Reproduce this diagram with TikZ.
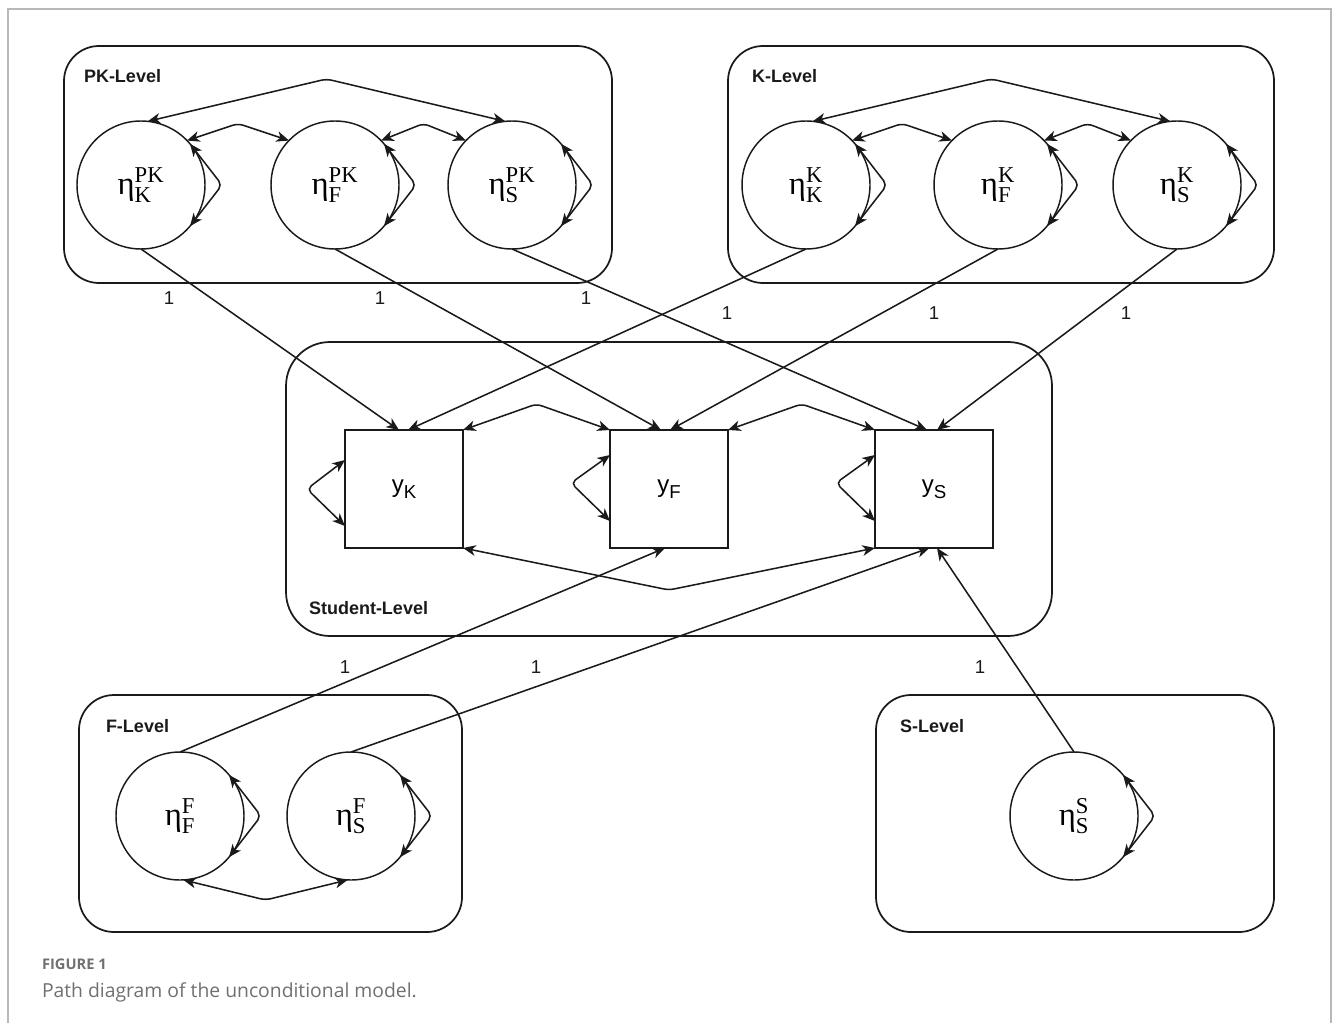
\documentclass[tikz,border=0pt]{standalone}
\usepackage{fontspec}
\setmainfont{Liberation Sans}
\newfontfamily\lserif{Liberation Serif}
\newfontfamily\capfont{Open Sans}
\usetikzlibrary{arrows.meta,calc}
\definecolor{ink}{HTML}{1A1A1A}
\definecolor{framegray}{HTML}{B8B8B8}
\definecolor{capgray}{HTML}{707070}
\newcommand\etalab[2]{$\mbox{\lserif η}^{\mbox{\lserif\fontsize{17}{19}\selectfont #1}}_{\mbox{\lserif\fontsize{17}{19}\selectfont #2}}$}
\newcommand\ylab[1]{y\raisebox{-0.25em}{\fontsize{14}{16}\selectfont #1}}
\begin{document}
\begin{tikzpicture}[x=0.75pt,y=-0.75pt,
  >={Stealth[length=9.5pt,width=8pt,inset=2.8pt]},
  every node/.style={inner sep=0pt,outer sep=0pt},
  latent/.style={circle,draw=ink,line width=1.1pt,minimum size=96pt,font=\fontsize{24.5}{27}\selectfont\lserif},
  observed/.style={rectangle,draw=ink,line width=1.1pt,minimum width=88.5pt,minimum height=88.5pt,font=\fontsize{18}{20}\selectfont},
  levelbox/.style={draw=ink,line width=1.3pt,rounded corners=26.25pt},
  levellabel/.style={anchor=base west,font=\bfseries\fontsize{13.5}{15}\selectfont,text=ink},
  onelab/.style={font=\fontsize{14}{16}\selectfont,text=ink},
  conn/.style={draw=ink,line width=1.15pt,->},
  cov/.style={draw=ink,line width=1.15pt,<->,rounded corners=4pt},
]
\useasboundingbox (0,0) rectangle (1333,1023);
% outer frame of the figure
\draw[framegray,line width=1.2pt] (8,1023) -- (8,9) -- (1331,9) -- (1331,1023);

% level boxes
\draw[levelbox] (64,46) rectangle (612,283);
\draw[levelbox] (728,46) rectangle (1274,283);
\draw[levelbox,rounded corners=33pt] (286,342) rectangle (1052,636);
\draw[levelbox] (79,695) rectangle (462,932);
\draw[levelbox] (876,695) rectangle (1274,932);

\node[levellabel] (lpk) at (84,83) {PK-Level};
\node[levellabel] (lk) at (752,83) {K-Level};
\node[levellabel] (lst) at (309,614) {Student-Level};
\node[levellabel] (lf) at (106,732) {F-Level};
\node[levellabel] (ls) at (900,732) {S-Level};

% latent variables
\node[latent] (pkK) at (141,185) {\etalab{PK}{K}};
\node[latent] (pkF) at (335,185) {\etalab{PK}{F}};
\node[latent] (pkS) at (512,185) {\etalab{PK}{S}};
\node[latent] (kK) at (806,185) {\etalab{K}{K}};
\node[latent] (kF) at (998,185) {\etalab{K}{F}};
\node[latent] (kS) at (1177,185) {\etalab{K}{S}};
\node[latent] (fF) at (180,816) {\etalab{F}{F}};
\node[latent] (fS) at (351,816) {\etalab{F}{S}};
\node[latent] (sS) at (1074,816) {\etalab{S}{S}};

% observed variables
\node[observed] (yK) at (404,489) {\ylab{K}};
\node[observed] (yF) at (669,489) {\ylab{F}};
\node[observed] (yS) at (934,489) {\ylab{S}};

% loadings
\draw[conn] (pkK.south) -- ([xshift=-3.75pt]yK.north);
\draw[conn] (kK.south) -- ([xshift=3pt]yK.north);
\draw[conn] (pkF.south) -- ([xshift=-6pt]yF.north);
\draw[conn] (kF.south) -- ([xshift=0.75pt]yF.north);
\draw[conn] (pkS.south) -- ([xshift=-5.25pt]yS.north);
\draw[conn] (kS.south) -- ([xshift=2.25pt]yS.north);
\draw[conn] (fF.north) -- ([xshift=-3pt]yF.south);
\draw[conn] (fS.north) -- ([xshift=-3.4pt]yS.south);
\draw[conn] (sS.north) -- ([xshift=2.25pt]yS.south);

\node[onelab] (o1) at (169,298) {1};
\node[onelab] (o2) at (380,298) {1};
\node[onelab] (o3) at (586,298) {1};
\node[onelab] (o4) at (727,313) {1};
\node[onelab] (o5) at (934,313) {1};
\node[onelab] (o6) at (1126,313) {1};
\node[onelab] (o7) at (345,667) {1};
\node[onelab] (o8) at (536,667) {1};
\node[onelab] (o9) at (980,667) {1};

% variances of latent variables
\foreach \n in {pkK,pkF,pkS,kK,kF,kS,fF,fS,sS}{
  \draw[cov] (\n.40) -- ($(\n.east)+(17,0)$) -- (\n.-40);
}
% covariances within PK and K levels
\draw[cov] (pkK.44) -- ($(pkK.44)!0.5!(pkF.136)+(0,-17)$) -- (pkF.136);
\draw[cov] (pkF.44) -- ($(pkF.44)!0.5!(pkS.136)+(0,-17)$) -- (pkS.136);
\draw[cov] (pkK.84) -- ($(pkK.north)!0.5!(pkS.north)+(0,-42)$) -- (pkS.96);
\draw[cov] (kK.44) -- ($(kK.44)!0.5!(kF.136)+(0,-17)$) -- (kF.136);
\draw[cov] (kF.44) -- ($(kF.44)!0.5!(kS.136)+(0,-17)$) -- (kS.136);
\draw[cov] (kK.84) -- ($(kK.north)!0.5!(kS.north)+(0,-42)$) -- (kS.96);
% covariance within F level
\draw[cov] (fF.-87) -- ($(fF.south)!0.5!(fS.south)+(0,20)$) -- (fS.-93);

% residual variances of observed variables
\draw[cov] ($(yK.west)+(0,-29)$) -- ($(yK.west)+(-38,0)$) -- ($(yK.west)+(0,37)$);
\draw[cov] ($(yF.west)+(0,-34)$) -- ($(yF.west)+(-39,-6)$) -- ($(yF.west)+(0,32)$);
\draw[cov] ($(yS.west)+(0,-34)$) -- ($(yS.west)+(-39,-6)$) -- ($(yS.west)+(0,32)$);
% residual covariances
\draw[cov] (yK.north east) -- ($(yK.north east)!0.5!(yF.north west)+(0,-26)$) -- (yF.north west);
\draw[cov] (yF.north east) -- ($(yF.north east)!0.5!(yS.north west)+(0,-26)$) -- (yS.north west);
\draw[cov] (yK.south east) -- ($(yK.south east)!0.5!(yS.south west)+(0,42)$) -- (yS.south west);

% caption
\node[anchor=base west,font=\capfont\bfseries\fontsize{11}{13}\selectfont,text=capgray] (figno) at (42,969) {FIGURE 1};
\node[anchor=base west,font=\capfont\fontsize{14.5}{17}\selectfont,text=capgray] (figcap) at (42,997) {Path diagram of the unconditional model.};
\end{tikzpicture}
\end{document}
